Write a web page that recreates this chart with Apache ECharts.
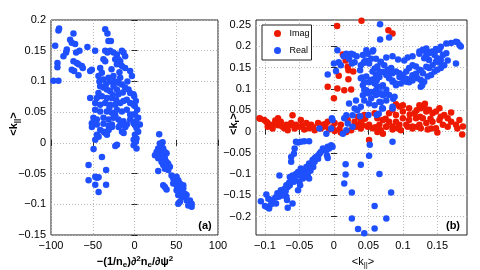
<!DOCTYPE html>
<html><head><meta charset="utf-8">
<script src="https://cdn.jsdelivr.net/npm/echarts@6/dist/echarts.min.js"></script>
<style>html,body{margin:0;padding:0;background:#fff}#c{width:480px;height:270px}</style>
</head><body><div id="c"></div>
<script>
// ---------- tick values ----------
const xTicksA = [-100, -50, 0, 50, 100];
const yTicksA = [-0.15, -0.1, -0.05, 0, 0.05, 0.1, 0.15, 0.2];
const xTicksB = [-0.1, -0.05, 0, 0.05, 0.1, 0.15];
const yTicksB = [-0.2, -0.15, -0.1, -0.05, 0, 0.05, 0.1, 0.15, 0.2, 0.25];
const seriesNames = ['Imag', 'Real'];

// ---------- panel (a): [-(1/ne) d2ne/dpsi2, <k_par>] ----------
const panelA = [
 [-91.1,0.183],[-90.3,0.186],[-73.1,0.178],[-95,0.158],[-81.1,0.152],[-81.9,0.147],[-85.1,0.141],
 [-77.1,0.168],[-75.1,0.163],[-71.1,0.161],[-69.9,0.147],[-65.9,0.150],[-73.1,0.133],[-69.1,0.130],
 [-67.1,0.128],[-63.1,0.125],[-61.9,0.122],[-56.4,0.156],[-75.1,0.119],[-72.3,0.117],[-67.1,0.110],
 [-51.1,0.119],[-53.1,0.117],[-92.3,0.130],[-92.3,0.123],[-97.1,0.101],[-91.1,0.101],
 [-35.1,0.185],[-32.4,0.178],[-31.2,0.166],[-28.3,0.166],[-47.1,0.150],[-35.1,0.150],[-32.4,0.147],
 [-29.1,0.150],[-25.2,0.147],[-21.1,0.144],[-15.1,0.150],[-13.2,0.147],[-11.2,0.141],[-23.1,0.136],
 [-19.2,0.136],[-17.1,0.133],[-21.1,0.128],[-15.1,0.125],[-11.2,0.122],[-5.2,0.117],[-3.1,0.109],
 [-37.2,0.136],[-35.1,0.133],[-41.1,0.122],[-39.1,0.114],[-43.2,0.109],[-42.0,0.100],[-37.2,0.103],
 [-31.2,0.106],[-29.1,0.100],[-25.2,0.109],[-23.1,0.100],[-19.2,0.098],[-17.1,0.106],[-15.1,0.095],
 [-11.2,0.090],[-7.2,0.087],[-5.2,0.081],[-1.2,0.079],[-41.1,0.092],[-37.2,0.090],[-33.1,0.087],
 [-29.1,0.084],[-25.2,0.092],[-21.1,0.087],[-19.2,0.079],[-27.1,0.073],[-33.1,0.073],[-39.1,0.076],
 [-43.2,0.081],[-45.1,0.073],[-53.1,0.073],[-47.1,0.065],[-41.1,0.062],[-35.1,0.065],[-29.1,0.062],
 [-23.1,0.062],[-17.1,0.065],[-13.2,0.068],[-9.2,0.070],[-5.2,0.065],[-1.2,0.062],[-47.1,0.054],
 [-41.1,0.051],[-33.1,0.051],[-27.1,0.049],[-21.1,0.054],[-15.1,0.051],[-9.2,0.054],[-5.2,0.046],
 [-1.2,0.046],[-49.2,0.041],[-45.1,0.038],[-37.2,0.041],[-31.2,0.038],[-25.2,0.041],[-19.2,0.038],
 [-13.2,0.035],[-5.2,0.038],[-1.2,0.032],[-51.1,0.032],[-45.1,0.030],[-37.2,0.031],[-27.1,0.030],
 [-17.1,0.029],[-9.2,0.030],[-30.0,0.058],[-26.0,0.078],[-22.0,0.070],[-34.0,0.096],[-27.5,0.120],
 [-18.0,0.115],[-31.0,0.028],[-23.0,0.045],[-14.0,0.082],[-8.5,0.100],
 [-0.4,0.076],[1.6,0.068],[0.4,0.060],[3.2,0.054],[0.4,0.046],[4.4,0.041],[1.6,0.035],[6.4,0.030],[2.4,0.027],
 [-51,0.026],[-41,0.021],[-37,0.018],[-35,0.016],[-31,0.021],[-27,0.026],[-19,0.026],[-15,0.018],
 [-11,0.026],[-13,0.016],[-45,0.013],[-43,0.010],[-33,0.013],[-47,0.005],[-49,-0.010],[-39,-0.023],
 [-21,-0.003],[-23,-0.005],[-1,0.005],[-1,-0.004],[-55,-0.036],[-34,-0.044],[-47,-0.055],[-45,-0.057],
 [-43,-0.056],[-55,-0.061],[-47,-0.068],[-34,-0.068],[-43,-0.080],
 [0.5,0.029],[2.4,0.024],[4.4,0.018],[0.5,0.013],[2.4,0.007],[1.7,0.002],[2.4,-0.009],
 [29.6,0.014],[30.4,-0.001],[33.6,0.001],[32.4,-0.005],[28.4,-0.009],[26.4,-0.015],[24.5,-0.020],
 [28.4,-0.017],[32.4,-0.012],[34.4,-0.009],[36.4,-0.015],[30.4,-0.023],[34.4,-0.020],[38.4,-0.017],
 [36.4,-0.025],[38.4,-0.031],[40.4,-0.034],[32.4,-0.031],[28.4,-0.025],[34.4,-0.036],[38.4,-0.039],
 [42.4,-0.039],[40.4,-0.044],[36.4,-0.042],[28.4,-0.046],[44.4,-0.053],[46.4,-0.058],[48.4,-0.064],
 [50.4,-0.055],[52.4,-0.061],[46.4,-0.066],[50.4,-0.069],[54.4,-0.066],[56.4,-0.072],[58.4,-0.069],
 [50.4,-0.077],[54.4,-0.080],[58.4,-0.074],[60.4,-0.083],[52.4,-0.085],[56.4,-0.088],[60.4,-0.088],
 [62.4,-0.094],[66.4,-0.094],[64.4,-0.102],[68.4,-0.104],[68.4,-0.099],[62.4,-0.085],[52.4,-0.099],
 [54.4,-0.096],[34.4,-0.069],[36.4,-0.072],[38.4,-0.076]
];

// ---------- panel (b): [<k_par>, <k_r>] ----------
const imagPts = [
 [0.0046,0.248],[0.040,0.260],[0.079,0.238],[0.085,0.230],[0.013,0.181],[0.017,0.167],[0.020,0.152],
 [0.021,0.144],[0.028,0.141],[0.007,0.131],[0.021,0.123],[-0.009,0.105],[0.005,0.101],[0.015,0.097],
 [0.025,0.099],[0.000,0.078],
 [-0.108,0.031],[-0.101,0.027],[-0.096,0.020],[-0.089,0.016],[-0.081,0.031],[-0.077,0.023],[-0.069,0.016],
 [-0.060,0.038],[-0.062,0.020],[-0.055,0.016],[-0.048,0.027],[-0.040,0.020],[-0.033,0.016],[-0.023,0.020],
 [-0.016,0.016],[-0.009,0.023],[0.001,0.020],[0.010,0.016],[0.020,0.027],[0.030,0.023],[0.037,0.016],
 [-0.096,0.011],[-0.089,0.007],[-0.081,0.015],[-0.072,0.008],[-0.067,0.003],[-0.057,0.007],[-0.050,0.011],
 [-0.043,0.005],[-0.036,0.008],[-0.028,0.003],[-0.019,0.007],[-0.014,0.012],[-0.007,0.005],[0.001,0.001],
 [0.010,-0.002],[0.018,-0.001],[0.025,0.003],[0.032,0.011],[0.039,0.007],
 [-0.107,0.030],[-0.098,0.023],[-0.085,0.026],[-0.075,0.012],[-0.064,0.015],[-0.046,0.014],[-0.030,0.010],
 [-0.012,0.018],[-0.002,0.010],[0.008,0.006],[0.028,0.012],[0.035,0.035],[0.045,0.030],
 [0.090,0.064],[0.095,0.059],[0.085,0.051],[0.080,0.043],[0.090,0.039],[0.100,0.047],[0.109,0.055],
 [0.117,0.043],[0.124,0.062],[0.126,0.055],[0.131,0.059],[0.134,0.047],[0.138,0.051],[0.143,0.043],
 [0.148,0.047],[0.153,0.055],[0.129,0.031],[0.119,0.031],[0.109,0.027],[0.100,0.031],[0.090,0.023],
 [0.080,0.023],[0.071,0.027],[0.063,0.031],[0.059,0.043],[0.044,0.039],[0.039,0.023],[0.051,0.016],
 [0.066,0.016],[0.076,0.012],[0.085,0.012],[0.095,0.016],[0.105,0.016],[0.114,0.012],[0.124,0.016],
 [0.134,0.020],[0.143,0.023],[0.153,0.027],[0.158,0.016],[0.165,0.031],[0.170,0.023],[0.177,0.016],
 [0.182,0.027],[0.187,0.012],[0.160,0.039],[0.155,0.035],
 [0.042,0.015],[0.049,0.011],[0.056,0.008],[0.063,-0.001],[0.068,0.003],[0.071,-0.005],[0.076,0.011],
 [0.085,0.005],[0.092,0.008],[0.097,0.003],[0.107,0.011],[0.114,0.007],[0.121,0.011],[0.126,0.008],
 [0.136,0.005],[0.141,0.007],[0.148,0.008],[0.150,-0.002],[0.165,0.011],[0.179,0.007],[0.186,-0.007],
 [0.051,-0.020],[0.060,0.010],[0.075,0.030],[0.110,0.040],[0.120,0.050],[0.140,0.030],[0.170,0.045],
 [0.100,0.062],[0.125,0.035],[0.132,0.065]
];
const realPts = [
 [0.067,0.252],[0.067,0.216],[0.080,0.221],[0.005,0.191],[-0.009,0.134],[0.000,0.160],[0.007,0.163],
 [0.003,0.142],[0.010,0.156],[0.014,0.177],[0.018,0.183],[0.022,0.171],[0.025,0.183],[0.028,0.181],
 [0.033,0.177],[0.030,0.163],[0.026,0.160],
 [0.047,0.191],[0.049,0.183],[0.057,0.191],[0.046,0.167],[0.043,0.161],[0.039,0.156],[0.051,0.160],
 [0.054,0.171],[0.061,0.171],[0.059,0.148],[0.068,0.163],[0.076,0.174],[0.085,0.177],[0.093,0.169],
 [0.102,0.167],[0.107,0.174],[0.114,0.177],[0.124,0.183],[0.129,0.191],[0.134,0.195],[0.141,0.187],
 [0.148,0.191],[0.155,0.199],[0.163,0.207],[0.170,0.208],[0.179,0.210],[0.184,0.200],[0.177,0.160],
 [0.165,0.167],[0.153,0.163],[0.143,0.156],[0.134,0.152],[0.126,0.144],[0.119,0.136],[0.114,0.132],
 [0.105,0.124],[0.095,0.128],[0.085,0.120],[0.078,0.136],[0.071,0.140],[0.066,0.128],[0.062,0.120],
 [0.056,0.122],[0.051,0.116],[0.044,0.116],[0.041,0.127],[0.038,0.144],[0.047,0.097],[0.054,0.093],
 [0.061,0.097],[0.066,0.089],[0.071,0.085],[0.076,0.089],[0.068,0.105],[0.090,0.109],[0.097,0.113],
 [0.109,0.116],[0.114,0.120],[0.126,0.105],[0.128,0.109],[0.042,0.085],[0.032,0.073],[0.044,0.073],
 [0.051,0.066],[0.059,0.062],[0.068,0.069],[0.076,0.073],[0.086,0.077],[0.071,0.054],[0.085,0.054],
 [0.085,0.058],[0.065,0.042],[0.062,0.039],[0.050,0.039],[0.038,0.036],[0.022,0.066],[0.030,0.054],
 [0.034,0.050],[0.039,0.058],[0.027,0.038],[0.018,0.038],[0.015,0.031],[0.020,0.019],[0.027,0.011],
 [0.018,0.003],[0.013,-0.005],[-0.002,0.027],[-0.004,0.007],[-0.011,-0.005],[-0.021,0.007],[-0.003,0.031],
 [0.124,0.188],[0.129,0.192],[0.134,0.180],[0.138,0.184],[0.143,0.188],[0.148,0.194],[0.153,0.192],
 [0.158,0.180],[0.163,0.184],[0.177,0.211],[0.182,0.203],[0.148,0.164],[0.138,0.149],[0.129,0.137],
 [0.124,0.145],[0.119,0.153],[0.114,0.156],[0.109,0.149],[0.105,0.141],[0.100,0.133],[0.095,0.137],
 [0.090,0.141],[0.085,0.137],[0.083,0.149],[0.078,0.145],[0.076,0.133],[0.080,0.125],[0.085,0.117],
 [0.090,0.113],[0.100,0.125],[0.105,0.117],[0.109,0.121],[0.114,0.129],[0.119,0.133],[0.121,0.125],
 [0.126,0.121],[0.131,0.117],[0.136,0.129],[0.141,0.133],[0.146,0.141],[0.150,0.145],[0.155,0.149],
 [0.160,0.156],[0.146,0.180],[0.150,0.172],[0.155,0.168],[0.138,0.168],[0.131,0.172],[0.068,0.164],
 [0.073,0.156],[0.063,0.153],[0.066,0.141],[0.061,0.133],[0.056,0.141],[0.054,0.121],[0.059,0.113],
 [0.063,0.106],[0.071,0.109],[0.076,0.098],[0.080,0.086],[0.088,0.082],[0.068,0.090],[0.061,0.086],
 [0.054,0.078],[0.049,0.090],[0.044,0.098],[0.042,0.109],[0.039,0.125],[0.047,0.129],[0.066,0.070],
 [0.070,0.055],[0.056,0.188],[0.042,0.180],[0.044,0.164],
 [-0.060,-0.103],[-0.057,-0.110],[-0.052,-0.095],[-0.050,-0.103],[-0.048,-0.087],[-0.045,-0.091],
 [-0.043,-0.095],[-0.040,-0.083],[-0.038,-0.087],[-0.036,-0.075],[-0.033,-0.079],[-0.031,-0.067],
 [-0.028,-0.063],[-0.026,-0.060],[-0.023,-0.056],[-0.021,-0.052],[-0.019,-0.048],[-0.016,-0.040],
 [-0.014,-0.042],[-0.011,-0.044],[-0.009,-0.036],[-0.007,-0.040],[-0.004,-0.032],[-0.002,-0.036],
 [-0.010,-0.056],[-0.009,-0.062],[-0.050,-0.118],[-0.045,-0.110],[-0.049,-0.126],[-0.052,-0.138],
 [-0.043,-0.107],[-0.038,-0.103],[-0.036,-0.110],[-0.028,-0.071],[-0.023,-0.064],[-0.034,-0.092],
 [-0.030,-0.083],[-0.041,-0.100],[-0.046,-0.102],
 [-0.062,-0.071],[-0.062,-0.060],[-0.058,-0.052],[-0.057,-0.040],[-0.055,-0.024],[-0.052,-0.026],
 [-0.048,-0.024],[-0.043,-0.023],[-0.036,-0.023],
 [-0.069,-0.126],[-0.067,-0.130],[-0.064,-0.126],[-0.069,-0.153],[-0.068,-0.161],[-0.064,-0.107],
 [-0.077,-0.138],[-0.074,-0.142],[-0.072,-0.146],[-0.080,-0.153],[-0.089,-0.165],[-0.106,-0.164],
 [-0.098,-0.148],[-0.097,-0.177],[-0.094,-0.181],[-0.091,-0.171],[-0.091,-0.161],[-0.084,-0.169],
 [-0.079,-0.103],[-0.067,-0.179],[-0.060,-0.169],
 [-0.085,-0.155],[-0.082,-0.145],[-0.075,-0.150],[-0.072,-0.135],[-0.070,-0.140],[-0.065,-0.120],
 [-0.062,-0.115],[-0.058,-0.118],[-0.055,-0.100],[-0.100,-0.175],[-0.095,-0.158],
 [0.017,-0.077],[0.017,-0.101],[0.015,-0.122],[0.026,-0.143],[0.026,-0.204],[0.035,-0.229],
 [0.044,-0.239],[0.039,-0.078],[0.051,-0.057],[0.052,-0.031],[0.066,-0.100],[0.085,-0.024],
 [0.083,-0.143],[0.076,-0.204],[0.059,-0.175],[0.059,-0.228]
];

// ---------- chart ----------
const BLUE = '#1f50ff';
const RED = '#ee1a00';
const FONT = '"Liberation Sans", Arial, Helvetica, sans-serif';
function fmt(v) {
  const r = Math.round(v * 1000) / 1000;
  return String(r).replace('-', '\u2212');
}
function axis(gridIndex, position, min, max, ticks, main) {
  return {
    type: 'value', gridIndex, position, min, max,
    axisLine: { show: false },
    axisTick: { show: true, inside: true, length: 3, lineStyle: { color: '#222', width: 1 }, customValues: ticks },
    axisLabel: { show: main, customValues: ticks, formatter: fmt, margin: 5,
                 fontFamily: FONT, fontSize: 11, color: '#000' },
    splitLine: { show: main, lineStyle: { color: '#b8b8b8', type: [1, 2], width: 1 } }
  };
}
const chart = echarts.init(document.getElementById('c'), null, { renderer: 'canvas' });
const rich = {
  b: { fontFamily: FONT, fontSize: 11, fontWeight: 'bold', color: '#000', lineHeight: 14 },
  r: { fontFamily: FONT, fontSize: 11, color: '#000', lineHeight: 14 },
  s: { fontFamily: FONT, fontSize: 8, fontWeight: 'bold', color: '#000', lineHeight: 8, verticalAlign: 'bottom' },
  sr: { fontFamily: FONT, fontSize: 8, color: '#000', lineHeight: 8, verticalAlign: 'bottom' },
  p: { fontFamily: FONT, fontSize: 8, fontWeight: 'bold', color: '#000', lineHeight: 8, verticalAlign: 'top' }
};
chart.setOption({
  animation: false,
  backgroundColor: '#fff',
  grid: [
    { left: 51, right: 262, top: 20, bottom: 35, show: true, borderColor: '#222', borderWidth: 1, backgroundColor: '#fff' },
    { left: 256, right: 13, top: 20, bottom: 35, show: true, borderColor: '#222', borderWidth: 1, backgroundColor: '#fff' }
  ],
  xAxis: [
    axis(0, 'bottom', -100, 100, xTicksA, true),
    axis(0, 'top', -100, 100, xTicksA, false),
    axis(1, 'bottom', -0.113, 0.193, xTicksB, true),
    axis(1, 'top', -0.113, 0.193, xTicksB, false)
  ],
  yAxis: [
    axis(0, 'left', -0.15, 0.2, yTicksA, true),
    axis(0, 'right', -0.15, 0.2, yTicksA, false),
    axis(1, 'left', -0.243, 0.262, yTicksB, true),
    axis(1, 'right', -0.243, 0.262, yTicksB, false)
  ],
  legend: {
    data: seriesNames, orient: 'vertical', left: 262, top: 25,
    padding: [4, 2, 5, 12], itemGap: 8, itemWidth: 14, itemHeight: 7,
    backgroundColor: '#fff', borderColor: '#222', borderWidth: 1, borderRadius: 0,
    textStyle: { fontFamily: FONT, fontSize: 9, color: '#000' },
    selectedMode: false
  },
  series: [
    { type: 'scatter', xAxisIndex: 0, yAxisIndex: 0, data: panelA, symbolSize: 6.5,
      itemStyle: { color: BLUE, opacity: 1 }, clip: false, silent: true },
    { type: 'scatter', name: seriesNames[0], xAxisIndex: 2, yAxisIndex: 2, data: imagPts, symbolSize: 6.5,
      itemStyle: { color: RED, opacity: 1 }, clip: false, silent: true },
    { type: 'scatter', name: seriesNames[1], xAxisIndex: 2, yAxisIndex: 2, data: realPts, symbolSize: 6.5,
      itemStyle: { color: BLUE, opacity: 1 }, clip: false, silent: true }
  ],
  graphic: [
    { type: 'text', x: 135, y: 262, z: 10, style: {
      text: '{b|\u2212(1/n}{s|e}{b|)\u2202}{p|2}{b|n}{s|e}{b|/\u2202\u03c8}{p|2}',
      rich, align: 'center', verticalAlign: 'middle' } },
    { type: 'text', x: 363, y: 262, z: 10, style: {
      text: '{r|<k}{sr|||}{r|>}', rich, align: 'center', verticalAlign: 'middle' } },
    { type: 'text', x: 14, y: 124, rotation: Math.PI / 2, z: 10, style: {
      text: '{b|<k}{s|||}{b|>}', rich, align: 'center', verticalAlign: 'middle' } },
    { type: 'text', x: 234, y: 124, rotation: Math.PI / 2, z: 10, style: {
      text: '{b|<k}{s|r}{b|>}', rich, align: 'center', verticalAlign: 'middle' } },
    { type: 'text', x: 205, y: 226, z: 10, style: {
      text: '(a)', fontFamily: FONT, fontSize: 11, fontWeight: 'bold', fill: '#000', align: 'center', verticalAlign: 'middle' } },
    { type: 'text', x: 453, y: 226, z: 10, style: {
      text: '(b)', fontFamily: FONT, fontSize: 11, fontWeight: 'bold', fill: '#000', align: 'center', verticalAlign: 'middle' } }
  ]
});
</script>
</body></html>
